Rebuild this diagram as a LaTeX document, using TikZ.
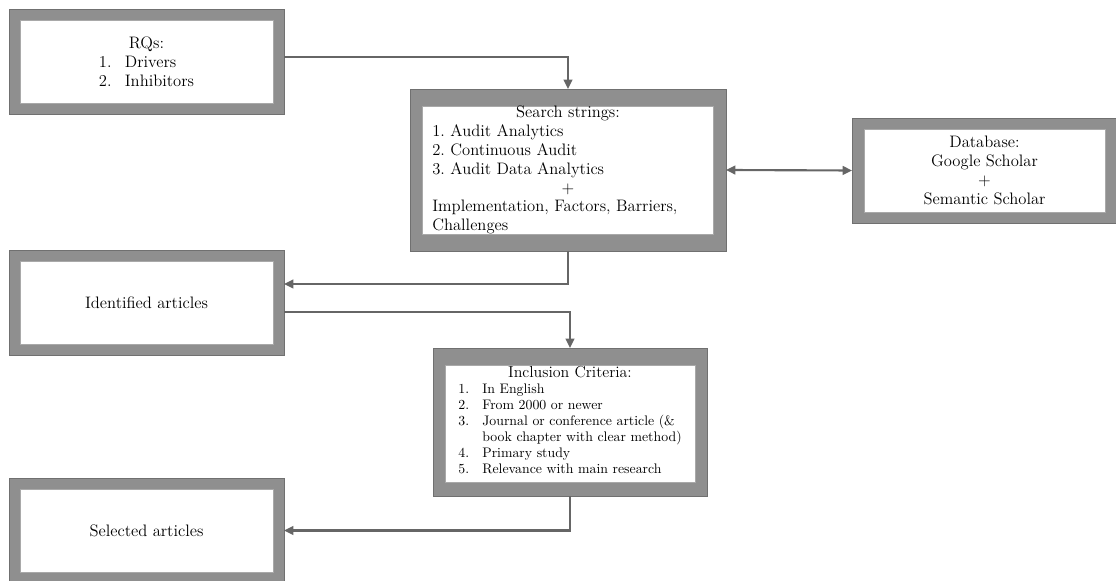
\documentclass[tikz,border=0pt]{standalone}
\usetikzlibrary{arrows.meta}
\definecolor{boxgray}{RGB}{143,143,143}
\definecolor{boxedge}{RGB}{112,112,112}
\definecolor{linkgray}{RGB}{102,102,102}
\frenchspacing
\begin{document}
\begin{tikzpicture}[scale=1,inner sep=0pt,outer sep=0pt,
outerblock/.style={draw=boxedge,fill=boxgray,rectangle,line width=0.5pt},
innerblock/.style={draw=boxedge!60,fill=white,rectangle,line width=0.4pt},
blocktext/.style={align=center,font=\fontsize{12.5}{14.25}\selectfont},
link/.style={draw=linkgray,line width=1.6pt,>={Triangle[length=7pt,width=6.5pt]}}]
\useasboundingbox (0,0) rectangle (29.527,15.372);
% research questions
\draw (3.876,13.745) node[outerblock,minimum width=7.276cm,minimum height=2.778cm] (rq) {};
\draw (rq) node[innerblock,minimum width=6.694cm,minimum height=2.196cm] {};
\draw ([yshift=-0.08cm]rq.center) node[blocktext] {RQs:\\
  \begin{tabular}[t]{@{}l@{\hspace{10pt}}l@{}}1.&Drivers\\2.&Inhibitors\end{tabular}};
% search strings
\draw (15.028,10.874) node[outerblock,minimum width=8.361cm,minimum height=4.286cm] (srch) {};
\draw (srch) node[innerblock,minimum width=7.699cm,minimum height=3.387cm] {};
\draw (srch) node[font=\fontsize{12.5}{14.25}\selectfont,text width=7.18cm,align=left] {%
  {\centering Search strings:\par}
  1. Audit Analytics\par
  2. Continuous Audit\par
  3. Audit Data Analytics\par
  {\centering +\par}
  Implementation, Factors, Barriers,\par
  Challenges};
% database
\draw (26.048,10.861) node[outerblock,minimum width=7.011cm,minimum height=2.778cm] (db) {};
\draw (db) node[innerblock,minimum width=6.376cm,minimum height=2.196cm] {};
\draw (db) node[blocktext] {Database:\\Google Scholar\\+\\Semantic Scholar};
% identified articles
\draw (3.876,7.369) node[outerblock,minimum width=7.276cm,minimum height=2.778cm] (ident) {};
\draw (ident) node[innerblock,minimum width=6.694cm,minimum height=2.196cm] {};
\draw (ident) node[blocktext] {Identified articles};
% inclusion criteria
\draw (15.081,4.207) node[outerblock,minimum width=7.249cm,minimum height=3.916cm] (incl) {};
\draw (15.081,4.167) node[innerblock,minimum width=6.615cm,minimum height=3.096cm] {};
\draw (incl) node[font=\fontsize{10.4}{12}\selectfont] {%
  \begin{tabular}{@{}l@{\hspace{10pt}}l@{}}
  \multicolumn{2}{c}{\fontsize{12}{14}\selectfont Inclusion Criteria:}\\
  1.&In English\\
  2.&From 2000 or newer\\
  3.&Journal or conference article (\&\\
  &book chapter with clear method)\\
  4.&Primary study\\
  5.&Relevance with main research
  \end{tabular}};
% selected articles
\draw (3.876,1.336) node[outerblock,minimum width=7.276cm,minimum height=2.778cm] (sel) {};
\draw (sel) node[innerblock,minimum width=6.694cm,minimum height=2.196cm] {};
\draw (sel) node[blocktext] {Selected articles};
% connectors
\draw[link,->] ([yshift=0.119cm]rq.east) -| (srch.north);
\draw[link,<->] (srch.east) -- (db.west);
\draw[link,->] (srch.south) |- ([yshift=0.489cm]ident.east);
\draw[link,->] ([yshift=-0.251cm]ident.east) -| (incl.north);
\draw[link,->] (incl.south) |- (sel.east);
\end{tikzpicture}
\end{document}
